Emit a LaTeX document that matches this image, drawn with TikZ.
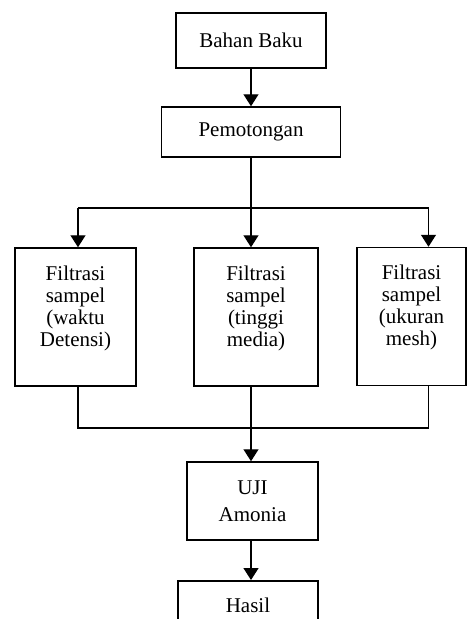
\documentclass[tikz,border=0pt]{standalone}
\usepackage{fontspec}
\setmainfont{Liberation Serif}
\usetikzlibrary{arrows.meta}
\newcommand{\isiatas}[3]{\parbox[c][#2][t]{#1}{\centering\vspace*{17.6pt}#3}}

\begin{document}
\begin{tikzpicture}[x=1pt,y=-1pt]
	      \tikzstyle{every node}=[font=\fontsize{21}{22}\selectfont]
	      \tikzstyle{kotak}=[draw,line width=1.5pt,align=center,inner sep=0pt]
	      \tikzstyle{garis}=[line width=1.3pt]
	      \tikzstyle{panah}=[line width=1.3pt,-{Triangle[width=15pt,length=12pt]}]
	      \useasboundingbox (0,0) rectangle (467,619);
	      \clip (0,0) rectangle (467,619);
	      \node[kotak,minimum width=150pt,minimum height=55pt](bahan) at (251,40.5){Bahan Baku};
	      \node[kotak,minimum width=179pt,minimum height=50pt](potong) at (251,132){Pemotongan};
	      \node[kotak](f1) at (75.5,317){\isiatas{121pt}{138pt}{Filtrasi\\sampel\\(waktu\\Detensi)}};
	      \node[kotak](f2) at (256,317){\isiatas{124pt}{138pt}{Filtrasi\\sampel\\(tinggi\\media)}};
	      \node[kotak](f3) at (411.5,316.5){\isiatas{109pt}{138pt}{Filtrasi\\sampel\\(ukuran\\mesh)}};
	      \node[kotak,minimum width=131pt,minimum height=78pt](uji) at (252.5,501){UJI\\[5pt]Amonia};
	      \node[kotak,anchor=north](hasil) at (248,580){\isiatas{140pt}{80pt}{Hasil}};
	      \coordinate (kiri) at (78,208);
	      \coordinate (atas) at (251,208);
	      \coordinate (kanan) at (428.5,208);
	      \coordinate (gabung) at (251,428);
	      \draw[panah](bahan)--(potong);
	      \draw[garis](potong)--(atas);
	      \draw[garis](kiri)--(kanan);
	      \draw[panah](kiri)--(kiri |- f1.north);
	      \draw[panah](atas)--(atas |- f2.north);
	      \draw[panah](kanan)--(kanan |- f3.north);
	      \draw[garis](kiri |- f1.south) |- (gabung) -| (kanan |- f3.south);
	      \draw[garis](atas |- f2.south)--(gabung);
	      \draw[panah](gabung)--(atas |- uji.north);
	      \draw[panah](atas |- uji.south)--(atas |- hasil.north);
	    \end{tikzpicture}
\end{document}
